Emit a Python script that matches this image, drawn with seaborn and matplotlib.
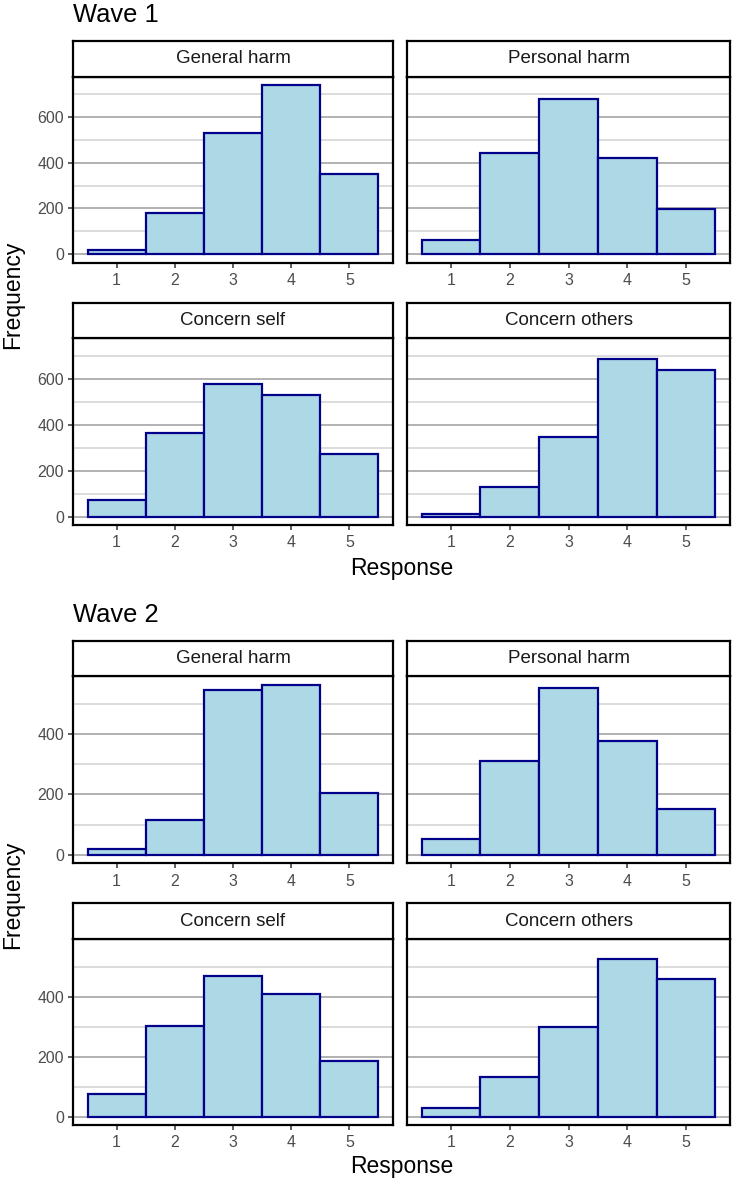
import numpy as np
import pandas as pd
import matplotlib
matplotlib.use('Agg')
import matplotlib.pyplot as plt
from matplotlib.ticker import MultipleLocator
import seaborn as sns

# response scale 1-5, counts per item and wave
responses = [1, 2, 3, 4, 5]
items = ['General harm', 'Personal harm', 'Concern self', 'Concern others']

wave1_general_harm = [17, 181, 531, 738, 349]
wave1_personal_harm = [62, 441, 677, 419, 198]
wave1_concern_self = [71, 363, 577, 528, 271]
wave1_concern_others = [12, 128, 347, 684, 636]

wave2_general_harm = [18, 114, 545, 564, 205]
wave2_personal_harm = [52, 309, 552, 377, 152]
wave2_concern_self = [76, 301, 469, 411, 186]
wave2_concern_others = [29, 132, 300, 528, 458]

waves = {
    'Wave 1': [wave1_general_harm, wave1_personal_harm, wave1_concern_self, wave1_concern_others],
    'Wave 2': [wave2_general_harm, wave2_personal_harm, wave2_concern_self, wave2_concern_others],
}

sns.set_style('white')
plt.rcParams['font.family'] = ['Liberation Sans', 'DejaVu Sans']

W, H = 733, 1183
fig = plt.figure(figsize=(W / 100, H / 100), dpi=100)


def box(x0, y0, x1, y1):
    # pixel box -> figure fraction rect
    return [x0 / W, 1 - y1 / H, (x1 - x0) / W, (y1 - y0) / H]


cols = [(73, 393), (407, 730)]
# (strip top, strip bottom / panel top, panel bottom) for each row
layout = {
    'Wave 1': {'title_y': 15, 'rows': [(40.7, 76.7, 262.7), (303.3, 338.3, 525)],
               'ylab_y': 295, 'xlab_y': 568},
    'Wave 2': {'title_y': 615, 'rows': [(640.7, 676, 863.3), (903.3, 939.3, 1125)],
               'ylab_y': 895, 'xlab_y': 1167},
}

tick_color = '#4d4d4d'
line_w = 1.6

for wave, counts in waves.items():
    lay = layout[wave]
    ymax = max(max(c) for c in counts)
    for i, (item, vals) in enumerate(zip(items, counts)):
        r, c = divmod(i, 2)
        st, pt, pb = lay['rows'][r]
        x0, x1 = cols[c]

        ax = fig.add_axes(box(x0, pt, x1, pb))
        df = pd.DataFrame({'response': responses, 'count': vals})
        sns.barplot(data=df, x='response', y='count', native_scale=True, width=1,
                    color='lightblue', edgecolor='darkblue', linewidth=1.6,
                    saturation=1, ax=ax, zorder=3)
        ax.set_xlim(0.25, 5.75)
        ax.set_ylim(-0.05 * ymax, 1.05 * ymax)
        ax.set_xticks(responses)
        ax.yaxis.set_major_locator(MultipleLocator(200))
        ax.yaxis.set_minor_locator(MultipleLocator(100))
        ax.grid(axis='y', which='major', color='#ababab', linewidth=1.3, zorder=0)
        ax.grid(axis='y', which='minor', color='#d6d6d6', linewidth=1.2, zorder=0)
        ax.grid(axis='x', visible=False)
        ax.set_axisbelow(True)
        ax.set_xlabel('')
        ax.set_ylabel('')
        ax.tick_params(which='major', length=3.5, width=1.1, color='#333333',
                       labelcolor=tick_color, labelsize=11.5, pad=3, direction='out')
        ax.tick_params(which='minor', length=0)
        ax.tick_params(axis='x', pad=4, bottom=True)
        ax.tick_params(axis='y', left=True)
        if c == 1:
            ax.set_yticklabels([])
            ax.tick_params(axis='y', left=False)
        for s in ax.spines.values():
            s.set_color('black')
            s.set_linewidth(line_w)
            s.set_visible(True)

        sax = fig.add_axes(box(x0, st, x1, pt))
        sax.set_xticks([])
        sax.set_yticks([])
        sax.set_facecolor('white')
        for s in sax.spines.values():
            s.set_color('black')
            s.set_linewidth(line_w)
            s.set_visible(True)
        sax.text(0.5, 0.5, item, ha='center', va='center', fontsize=13.5,
                 color='#1a1a1a', transform=sax.transAxes)

    fig.text(73 / W, 1 - lay['title_y'] / H, wave, ha='left', va='center',
             fontsize=18.4, color='black')
    fig.text(13 / W, 1 - lay['ylab_y'] / H, 'Frequency', rotation=90,
             ha='center', va='center', fontsize=16.5, color='black')
    fig.text(401.5 / W, 1 - lay['xlab_y'] / H, 'Response', ha='center',
             va='center', fontsize=16.5, color='black')

fig.savefig('out.png', dpi=100)
plt.close(fig)
